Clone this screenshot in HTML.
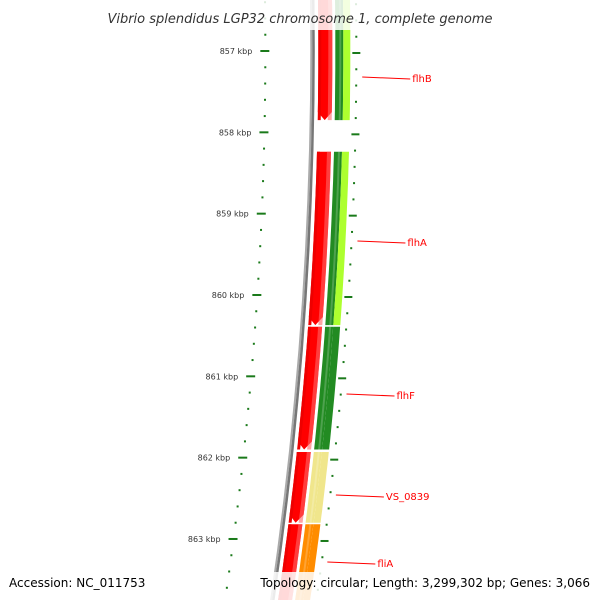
<!DOCTYPE html>
<html><head><meta charset="utf-8"><style>
body{margin:0;background:#fff}
svg{display:block;font-family:"DejaVu Sans","Liberation Sans",sans-serif}
</style></head><body>
<svg id="c" width="600" height="600" viewBox="0 0 600 600"></svg>
<script>
const geneNames=["flhB","flhA","flhF","VS_0839","fliA"];
const geneStart=[856.3,858.24,860.39,861.93,862.82];
const geneEnd=[857.85,860.37,861.9,862.8,863.9];
const geneColors=[["#228b22","#adff2f"],["#228b22","#adff2f"],["#228b22","#228b22"],["#f0e68c","#f0e68c"],["#ff8c00","#ff8c00"]];
const majorTicks=[857,858,859,860,861,862,863];
const labelY=[78,242,395,496,563];
const NS="http://www.w3.org/2000/svg";
const svg=document.getElementById('c');
function yOf(k){return 51+(k-857)*81.33;}
function xOf(y){return 312+0.0133*y-0.000133*y*y;}
function el(t,a,p){const e=document.createElementNS(NS,t);for(const k in a)e.setAttribute(k,a[k]);(p||svg).appendChild(e);return e;}
function band(y1,y2,o1,o2,arrow){
  const pts=[];const n=12;
  for(let i=0;i<=n;i++){const y=y1+(y2-(arrow?8:0)-y1)*i/n;pts.push((xOf(y)+o1).toFixed(1)+','+y.toFixed(1));}
  if(arrow){const yt=y2;pts.push((xOf(yt)+(o1+o2)/2).toFixed(1)+','+yt);}
  for(let i=n;i>=0;i--){const y=y1+(y2-(arrow?8:0)-y1)*i/n;pts.push((xOf(y)+o2).toFixed(1)+','+y.toFixed(1));}
  return pts.join(' ');
}
// backbone
const bb=el('g',{});
el('polyline',{points:band(0,600,-2,0,false),fill:'#aaa'},bb);
el('polyline',{points:band(0,600,0,2.5,false),fill:'#777'},bb);
// genes
geneNames.forEach((g,i)=>{
  const y1=Math.max(-5,yOf(geneStart[i])),y2=Math.min(610,yOf(geneEnd[i]));
  const grp=el('g',{});
  
  
  el('polygon',{points:band(y1,y2,6,20,y2<600),fill:'#ff0000'},grp);
  el('polygon',{points:band(y1,y2,6,9,false),fill:'#ee0000'},grp);
  el('polygon',{points:band(y1,y2,16,20,false),fill:'#ff6666',opacity:0.6},grp);
  el('polygon',{points:band(y1,y2,23,31,false),fill:geneColors[i][0]},grp);
  el('polygon',{points:band(y1,y2,31,38,false),fill:geneColors[i][1]},grp);
  el('polygon',{points:band(y1,y2,27,29,false),fill:'#fff',opacity:0.2},grp);
  // label
  const ly=labelY[i];const lx=xOf(ly)+50;
  const ln=el('line',{x1:lx,y1:ly-1,x2:lx+48,y2:ly+1,stroke:'#ff0000','stroke-width':1},grp);
  const t=el('text',{x:lx+50,y:ly+4,fill:'#ff0000','font-size':10},grp);t.textContent=g;
});
// ticks
for(let k=856.4;k<864;k+=0.2){
  const kk=Math.round(k*10)/10;const y=yOf(kk);if(y<0||y>600)continue;
  const maj=Math.abs(kk-Math.round(kk))<0.01;
  const xl=xOf(y)-47,xr=xOf(y)+44;
  const a=el('line',{x1:xl-(maj?5:1),y1:y,x2:xl+(maj?4:1),y2:y,stroke:'#1a7a1a','stroke-width':2});
  
  const b=el('line',{x1:xr-(maj?4:1),y1:y+2,x2:xr+(maj?4:1),y2:y+2,stroke:'#1a7a1a','stroke-width':2});
  
}
majorTicks.forEach(k=>{const y=yOf(k);const t=el('text',{x:xOf(y)-60,y:y+3,'text-anchor':'end','font-size':8,fill:'#333'});
  t.textContent=k+' kbp';});
// overlays
const o1=el('rect',{x:0,y:0,width:600,height:30,fill:'#fff',opacity:0.85});
const tt=el('text',{x:300,y:23,'text-anchor':'middle','font-size':13,'font-style':'italic',fill:'#333'});

tt.textContent='Vibrio splendidus LGP32 chromosome 1, complete genome';
const o2=el('rect',{x:258,y:572,width:342,height:28,fill:'#fff',opacity:0.85});
const a1=el('text',{x:9,y:587,'font-size':12,fill:'#000'});a1.textContent='Accession: NC_011753';
const a2=el('text',{x:590,y:587,'text-anchor':'end','font-size':12,fill:'#000'});a2.textContent='Topology: circular; Length: 3,299,302 bp; Genes: 3,066';
</script>
</body></html>
